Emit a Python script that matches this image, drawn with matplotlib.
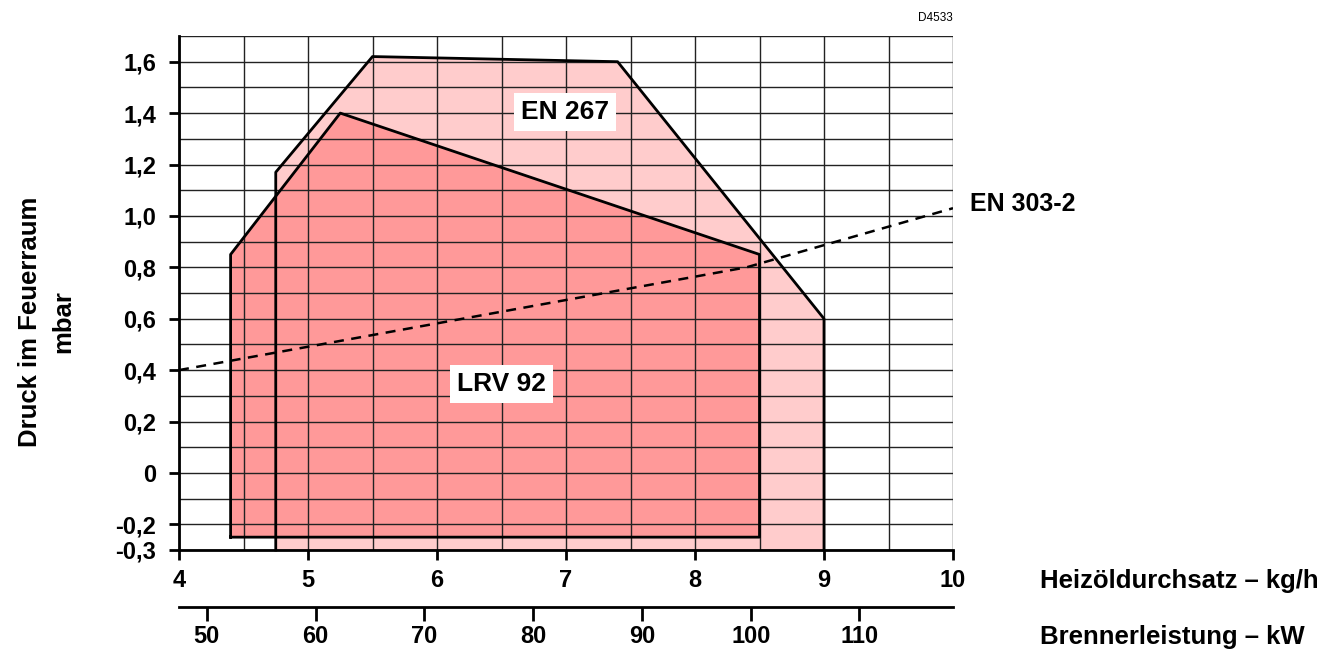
import matplotlib
matplotlib.use("Agg")
import matplotlib.pyplot as plt
from matplotlib.patches import Polygon

plt.rcParams['font.family'] = ['Liberation Sans', 'DejaVu Sans']
plt.rcParams['font.weight'] = 'bold'

# Data (kg/h, mbar)
en267_x = [4.75, 4.75, 5.5, 7.4, 9.0, 9.0]
en267_y = [-0.3, 1.17, 1.62, 1.6, 0.6, -0.3]
lrv92_x = [4.4, 4.4, 5.25, 8.5, 8.5]
lrv92_y = [-0.25, 0.85, 1.4, 0.85, -0.25]
en303_x = [4.0, 8.4, 10.0]
en303_y = [0.4, 0.8, 1.03]

x_ticks = [4, 5, 6, 7, 8, 9, 10]
y_ticks = [-0.3, -0.2, 0, 0.2, 0.4, 0.6, 0.8, 1.0, 1.2, 1.4, 1.6]
y_ticklabels = ['-0,3', '-0,2', '0', '0,2', '0,4', '0,6', '0,8', '1,0', '1,2', '1,4', '1,6']
kw_ticks = [50, 60, 70, 80, 90, 100, 110]
kw_per_kgh = 11.86

fig = plt.figure(figsize=(13.43, 6.55), dpi=100)
ax = fig.add_axes([179/1343, 1-550/655, (953-179)/1343, (550-36)/655])
ax.set_xlim(4, 10)
ax.set_ylim(-0.3, 1.7)

# grid
gx = [4 + 0.5*i for i in range(13)]
gy = [-0.3 + 0.1*i for i in range(21)]
for v in gx:
    ax.axvline(v, color='#222222', lw=1.0, zorder=3)
for v in gy:
    ax.axhline(v, color='#222222', lw=1.0, zorder=3)

ax.add_patch(Polygon(list(zip(en267_x, en267_y)), closed=True, facecolor='#FFCCCC',
                     edgecolor='none', zorder=1))
ax.add_patch(Polygon(list(zip(lrv92_x, lrv92_y)), closed=True, facecolor='#FF9999',
                     edgecolor='none', zorder=2))
# outlines
ax.plot(en267_x, en267_y, color='black', lw=2, zorder=5, clip_on=False)
ax.plot(lrv92_x + [lrv92_x[0]], lrv92_y + [lrv92_y[0]], color='black', lw=2, zorder=5)
ax.plot(en303_x, en303_y, color='black', lw=1.8, ls=(0, (4, 3)), zorder=6)

ax.text(6.99, 1.405, 'EN 267', fontsize=19, fontweight='bold', ha='center', va='center',
        zorder=7, bbox=dict(facecolor='white', edgecolor='none', pad=5))
ax.text(6.5, 0.345, 'LRV 92', fontsize=19, fontweight='bold', ha='center', va='center',
        zorder=7, bbox=dict(facecolor='white', edgecolor='none', pad=5))
ax.text(10.13, 1.045, 'EN 303-2', fontsize=18, fontweight='bold', ha='left', va='center',
        clip_on=False)

for s in ['top', 'right']:
    ax.spines[s].set_visible(False)
ax.spines['left'].set_linewidth(2)
ax.spines['bottom'].set_linewidth(2)
ax.spines['left'].set_zorder(8)
ax.spines['bottom'].set_zorder(8)

ax.set_xticks(x_ticks)
ax.set_xticklabels([str(t) for t in x_ticks])
ax.set_yticks(y_ticks)
ax.set_yticklabels(y_ticklabels)
ax.tick_params(axis='both', direction='out', length=7.5, width=2, labelsize=17)
ax.tick_params(axis='y', pad=9)
ax.tick_params(axis='x', pad=6)
for lab in ax.get_xticklabels() + ax.get_yticklabels():
    lab.set_fontweight('bold')

# secondary kW axis
sec = ax.secondary_xaxis(location=-0.111, functions=(lambda x: x*kw_per_kgh, lambda k: k/kw_per_kgh))
sec.set_xticks(kw_ticks)
sec.set_xticklabels([str(t) for t in kw_ticks])
sec.spines['bottom'].set_linewidth(2)
sec.tick_params(direction='out', length=10, width=2, labelsize=17, pad=3)
for lab in sec.get_xticklabels():
    lab.set_fontweight('bold')

fig.text(1040/1343, 1-581/655, 'Heizöldurchsatz – kg/h', fontsize=18.5, fontweight='bold',
         ha='left', va='center')
fig.text(1040/1343, 1-637/655, 'Brennerleistung – kW', fontsize=18.5, fontweight='bold',
         ha='left', va='center')
fig.text(30/1343, 1-322/655, 'Druck im Feuerraum', fontsize=18.5, fontweight='bold',
         rotation=90, ha='center', va='center')
fig.text(63/1343, 1-322/655, 'mbar', fontsize=18.5, fontweight='bold',
         rotation=90, ha='center', va='center')
fig.text(935/1343, 1-18/655, 'D4533', fontsize=8.5, fontweight='normal', ha='center', va='center')

fig.savefig('out.png', dpi=100)
